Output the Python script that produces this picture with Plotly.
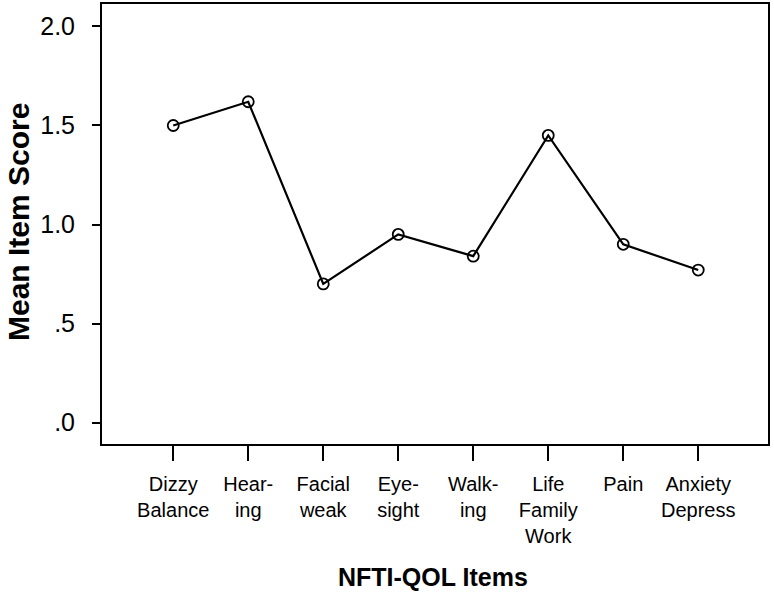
import plotly.graph_objects as go

categories = ["Dizzy<br>Balance", "Hear-<br>ing", "Facial<br>weak", "Eye-<br>sight",
              "Walk-<br>ing", "Life<br>Family<br>Work", "Pain", "Anxiety<br>Depress"]
mean_scores = [1.50, 1.62, 0.70, 0.95, 0.84, 1.45, 0.90, 0.77]
y_tick_values = [0.0, 0.5, 1.0, 1.5, 2.0]
y_tick_labels = [".0", ".5", "1.0", "1.5", "2.0"]
x_title = "NFTI-QOL Items"
y_title = "Mean Item Score"

x_idx = list(range(len(categories)))

fig = go.Figure()
fig.add_trace(go.Scatter(
    x=x_idx, y=mean_scores, mode="lines+markers",
    line=dict(color="black", width=2.2),
    marker=dict(symbol="circle-open", size=11, color="black", line=dict(width=1.8, color="black")),
    showlegend=False, cliponaxis=False,
))

font_family = "Liberation Sans, Arial, sans-serif"

plot_left, plot_right, plot_top, plot_bottom = 102, 768, 4, 444
plot_w = plot_right - plot_left
plot_h = plot_bottom - plot_top

fig.update_layout(
    width=774, height=593,
    margin=dict(l=plot_left, r=774 - plot_right, t=plot_top, b=593 - plot_bottom, autoexpand=False),
    paper_bgcolor="white", plot_bgcolor="white",
    font=dict(family=font_family, color="black"),
    xaxis=dict(
        range=[-0.95, 7.93], automargin=False,
        tickmode="array", tickvals=x_idx, ticktext=categories,
        ticks="outside", ticklen=15, tickwidth=2, tickcolor="black",
        tickfont=dict(size=20, family=font_family, color="black"),
        ticklabelstandoff=6,
        showline=True, linecolor="black", linewidth=2, mirror=True,
        showgrid=False, zeroline=False,
    ),
    yaxis=dict(
        range=[-0.1086, 2.1136], automargin=False,
        tickmode="array", tickvals=y_tick_values, ticktext=y_tick_labels,
        ticks="outside", ticklen=8, tickwidth=2, tickcolor="black",
        tickfont=dict(size=25, family=font_family, color="black"),
        ticklabelstandoff=12,
        showline=True, linecolor="black", linewidth=2, mirror=True,
        showgrid=False, zeroline=False,
    ),
    annotations=[
        dict(text="<b>" + x_title + "</b>", xref="paper", yref="paper",
             x=(433 - plot_left) / plot_w, y=-(577 - plot_bottom) / plot_h,
             xanchor="center", yanchor="middle",
             showarrow=False, font=dict(size=25, family=font_family, color="black")),
        dict(text="<b>" + y_title + "</b>", xref="paper", yref="paper",
             x=(18 - plot_left) / plot_w, y=(plot_bottom - 222) / plot_h,
             xanchor="center", yanchor="middle",
             textangle=-90, showarrow=False, font=dict(size=30, family=font_family, color="black")),
    ],
)

fig.write_html("out.html", config={"displayModeBar": False},
               post_script="document.body.style.margin='0';")
